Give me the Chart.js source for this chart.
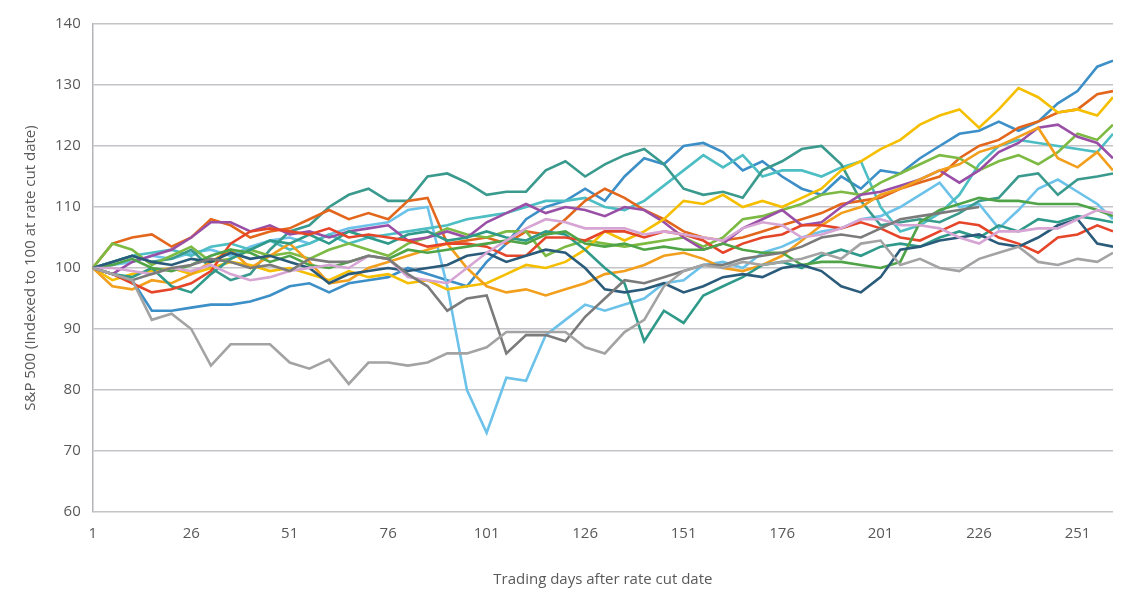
<!DOCTYPE html>
<html lang="en">

<head>
  <meta charset="UTF-8">
  <title>S&P 500 after rate cuts</title>
  <style>
    html, body { margin: 0; padding: 0; background: #fff; }
    #wrap { width: 1148px; height: 605px; }
  </style>
</head>

<body>
  <div id="wrap"><canvas id="chart"></canvas></div>

  <script src="https://cdn.jsdelivr.net/npm/chart.js@4/dist/chart.umd.min.js"></script>

  <script>
    // trading day of each reading
    const days = [1, 6, 11, 16, 21, 26, 31, 36, 41, 46, 51, 56, 61, 66, 71, 76, 81, 86, 91, 96,
      101, 106, 111, 116, 121, 126, 131, 136, 141, 146, 151, 156, 161, 166, 171, 176, 181, 186, 191, 196,
      201, 206, 211, 216, 221, 226, 231, 236, 241, 246, 251, 256, 260]
    const xTicks = [1, 26, 51, 76, 101, 126, 151, 176, 201, 226, 251]

    const blue = [100, 99, 98, 93, 93, 93.5, 94, 94, 94.5, 95.5, 97, 97.5, 96, 97.5, 98, 98.5, 100, 99, 98, 97,
      101, 104, 108, 110, 111, 113, 111, 115, 118, 117, 120, 120.5, 119, 116, 117.5, 115, 113, 112, 115, 113,
      116, 115.5, 118, 120, 122, 122.5, 124, 122.5, 124, 127, 129, 133, 134]
    const darkOrange = [100, 104, 105, 105.5, 103.5, 105, 108, 107, 105, 106, 106.5, 108, 109.5, 108, 109, 108, 111, 111.5, 104, 104.5,
      105, 104, 106, 105.5, 108, 111, 113, 111.5, 109.5, 108, 106, 105, 104.5, 105, 106, 107, 108, 109, 110.5, 111,
      111.5, 113, 114, 115, 118, 120, 121, 123, 124, 125.5, 126, 128.5, 129]
    const yellow = [100, 98, 99, 99.5, 100, 99, 100, 101, 100.5, 99.5, 100, 99, 98, 99.5, 98.5, 99, 97.5, 98, 96.5, 97,
      97.5, 99, 100.5, 100, 101, 103, 106, 104.5, 106, 108, 111, 110.5, 112, 110, 111, 110, 111.5, 113, 116, 117.5,
      119.5, 121, 123.5, 125, 126, 123, 126, 129.5, 128, 125.5, 126, 125, 128]
    const lightOrange = [100, 97, 96.5, 98, 97.5, 99, 101, 103, 100, 102, 104, 101, 97.5, 98, 100, 101, 102, 103, 104, 100,
      97, 96, 96.5, 95.5, 96.5, 97.5, 99, 99.5, 100.5, 102, 102.5, 101.5, 100, 99.5, 100.5, 102, 104.5, 107, 109, 110,
      112, 113, 114.5, 116, 117, 119, 120, 121.5, 123, 118, 116.5, 119, 116]
    const lightGreen = [100, 104, 103, 100.5, 102, 103.5, 101, 101.5, 103, 102, 102.5, 101.5, 103, 104, 103, 102, 104, 105, 106.5, 105.5,
      105, 106, 106, 102, 103.5, 104.5, 104, 103.5, 104, 104.5, 105, 103.5, 105, 108, 108.5, 109.5, 110.5, 112, 112.5, 112,
      114, 115.5, 117, 118.5, 118, 116, 117.5, 118.5, 117, 119, 122, 121, 123.5]
    const darkTeal = [100, 101, 102, 101, 101.5, 103, 100, 98, 99, 103, 106, 107, 110, 112, 113, 111, 111, 115, 115.5, 114,
      112, 112.5, 112.5, 116, 117.5, 115, 117, 118.5, 119.5, 117, 113, 112, 112.5, 111.5, 116, 117.5, 119.5, 120, 117, 111,
      107, 107.5, 108, 107.5, 109, 111, 111.5, 115, 115.5, 112, 114.5, 115, 115.5]
    const lightTeal = [100, 101, 102, 102.5, 103, 102, 103.5, 104, 103, 104.5, 103, 104, 105.5, 104, 105, 105.5, 106, 106.5, 107, 108,
      108.5, 109, 110, 111, 111, 111.5, 110, 109.5, 111, 113.5, 116, 118.5, 116.5, 118.5, 115, 116, 116, 115, 116.5, 117.5,
      110, 106, 107, 109, 112, 117, 120, 121, 120.5, 120, 119.5, 119, 122]
    const purple = [100, 99, 101, 102, 103, 105, 107.5, 107.5, 106, 107, 105.5, 106, 105, 106, 106.5, 107, 104.5, 105, 106, 105,
      107.5, 109, 110.5, 109, 110, 109.5, 108.5, 110, 109.5, 107.5, 105, 103, 104, 106.5, 108, 109.5, 107, 107.5, 110, 112,
      112.5, 113.5, 114.5, 116, 114, 116, 119, 120.5, 123, 123.5, 121.5, 120.5, 118]
    const lightBlue = [100, 100.5, 101, 102, 101.5, 102.5, 103, 102, 103.5, 104.5, 105, 104, 105.5, 106.5, 107, 107.5, 109.5, 110, 97, 80,
      73, 82, 81.5, 89, 91.5, 94, 93, 94, 95, 97.5, 98, 100.5, 101, 100, 102.5, 103.5, 105, 106, 106.5, 108,
      108.5, 110, 112, 114, 110, 110.5, 106.5, 109.5, 113, 114.5, 112.5, 110.5, 108]
    const slate = [100, 101, 102, 101, 100.5, 101.5, 101, 102.5, 101.5, 102, 101, 100, 97.5, 99, 99.5, 100, 99.5, 100, 100.5, 102,
      102.5, 101, 102, 103, 102.5, 100, 96.5, 96, 96.5, 97.5, 96, 97, 98.5, 99, 98.5, 100, 100.5, 99.5, 97, 96,
      98.5, 103, 103.5, 104.5, 105, 105.5, 104, 103.5, 105, 107, 108, 104, 103.5]
    const lightGray = [100, 99, 98, 91.5, 92.5, 90, 84, 87.5, 87.5, 87.5, 84.5, 83.5, 85, 81, 84.5, 84.5, 84, 84.5, 86, 86,
      87, 89.5, 89.5, 89.5, 89.5, 87, 86, 89.5, 91.5, 97, 99.5, 100.5, 100, 101, 100.5, 101, 101.5, 102.5, 101.5, 104,
      104.5, 100.5, 101.5, 100, 99.5, 101.5, 102.5, 103.5, 101, 100.5, 101.5, 101, 102.5]
    const darkGray = [100, 99, 98, 99, 100, 100.5, 101.5, 101, 100, 100.5, 99.5, 101.5, 101, 101, 102, 101.5, 99, 97, 93, 95,
      95.5, 86, 89, 89, 88, 92, 95, 98, 97.5, 98.5, 99.5, 100.5, 100.5, 101.5, 102, 102.5, 103.5, 105, 105.5, 105,
      106.5, 108, 108.5, 109, 109.5, 110]
    const red = [100, 99, 97.5, 96, 96.5, 97.5, 99.5, 104, 106, 106.5, 106, 105.5, 106.5, 105, 105.5, 105, 104.5, 103.5, 104, 104,
      103.5, 102, 102, 105, 105, 104.5, 106, 106, 105, 106, 105.5, 104.5, 102.5, 104, 105, 105.5, 107, 107, 106.5, 107.5,
      106.5, 105, 104.5, 106, 107.5, 107, 105, 104, 102.5, 105, 105.5, 107, 106]
    const pink = [100, 100, 99.5, 99, 100, 99.5, 100.5, 99, 98, 98.5, 99.5, 100, 100.5, 100, 102, 101.5, 98.5, 98, 97.5, 100,
      102.5, 104.5, 106.5, 108, 107.5, 106.5, 106.5, 106.5, 105.5, 106, 105.5, 105, 104.5, 106.5, 107.5, 107, 105, 105.5, 106.5, 108,
      108, 107, 107, 106.5, 105, 104, 106, 106, 106.5, 106.5, 108, 109.5, 109]
    const green = [100, 100.5, 101.5, 100, 99.5, 100.5, 102, 103, 102.5, 101, 102, 100.5, 100, 101, 102, 101.5, 103, 102.5, 103, 103.5,
      104, 104.5, 104, 105.5, 106, 104, 103.5, 104, 103, 103.5, 103, 103, 104, 103, 102.5, 102.5, 100.5, 101, 101, 100.5,
      100, 101, 107.5, 109.5, 110.5, 111.5, 111, 111, 110.5, 110.5, 110.5, 109.5, 108.5]
    const teal = [100, 99, 98.5, 100, 97, 96, 99, 101.5, 103, 104.5, 104, 105.5, 104, 106, 105, 104, 105.5, 106, 104.5, 105,
      106, 105, 104.5, 106, 105.5, 103, 100, 97.5, 88, 93, 91, 95.5, 97, 98.5, 100.5, 101, 100, 102, 103, 102,
      103.5, 104, 103.5, 105, 106, 105, 107, 106, 108, 107.5, 108.5, 108, 107.5]

    const series = [
      [lightGray, '#a3a3a3'],
      [darkGray, '#7b7b7b'],
      [pink, '#d6a5d3'],
      [slate, '#2a5b7a'],
      [green, '#4ea446'],
      [red, '#e5462a'],
      [teal, '#2f9a8a'],
      [lightOrange, '#f29f1d'],
      [yellow, '#f5bf00'],
      [purple, '#9a4fa7'],
      [lightGreen, '#7dba43'],
      [darkOrange, '#e2671c'],
      [darkTeal, '#3a9a8e'],
      [lightTeal, '#4dbec3'],
      [lightBlue, '#6dc2ea'],
      [blue, '#3d8fc7'],
    ]

    const datasets = series.map(([vals, color]) => ({
      data: vals.map((v, i) => ({ x: days[i], y: v })),
      borderColor: color,
      backgroundColor: color,
      borderWidth: 2.6,
      pointRadius: 0,
      tension: 0,
      fill: false,
    }))

    Chart.defaults.font.family = '"Open Sans", sans-serif'
    Chart.defaults.color = '#595959'

    new Chart(document.getElementById('chart'), {
      type: 'line',
      data: { datasets },
      options: {
        responsive: true,
        maintainAspectRatio: false,
        animation: false,
        layout: { padding: { top: 24, right: 35, left: 18, bottom: 12 } },
        plugins: { legend: { display: false }, tooltip: { enabled: false } },
        scales: {
          x: {
            type: 'linear',
            min: 1,
            max: 260,
            afterBuildTicks: (scale) => { scale.ticks = xTicks.map(v => ({ value: v })) },
            grid: { display: false, drawTicks: false },
            border: { display: false },
            ticks: { font: { size: 15 }, padding: 13, maxRotation: 0 },
            title: { display: true, text: 'Trading days after rate cut date', font: { size: 15 }, padding: { top: 15 } },
          },
          y: {
            min: 60,
            max: 140,
            ticks: { stepSize: 10, font: { size: 15 }, padding: 12 },
            grid: { color: '#c4c4c8', lineWidth: 1.5, drawTicks: false },
            border: { display: true, color: '#b4b4b8', width: 1.5 },
            title: { display: true, text: 'S&P 500 (Indexed to 100 at rate cut date)', font: { size: 15 }, padding: { top: 4, bottom: 3 } },
          }
        }
      }
    })
  </script>
</body>

</html>
